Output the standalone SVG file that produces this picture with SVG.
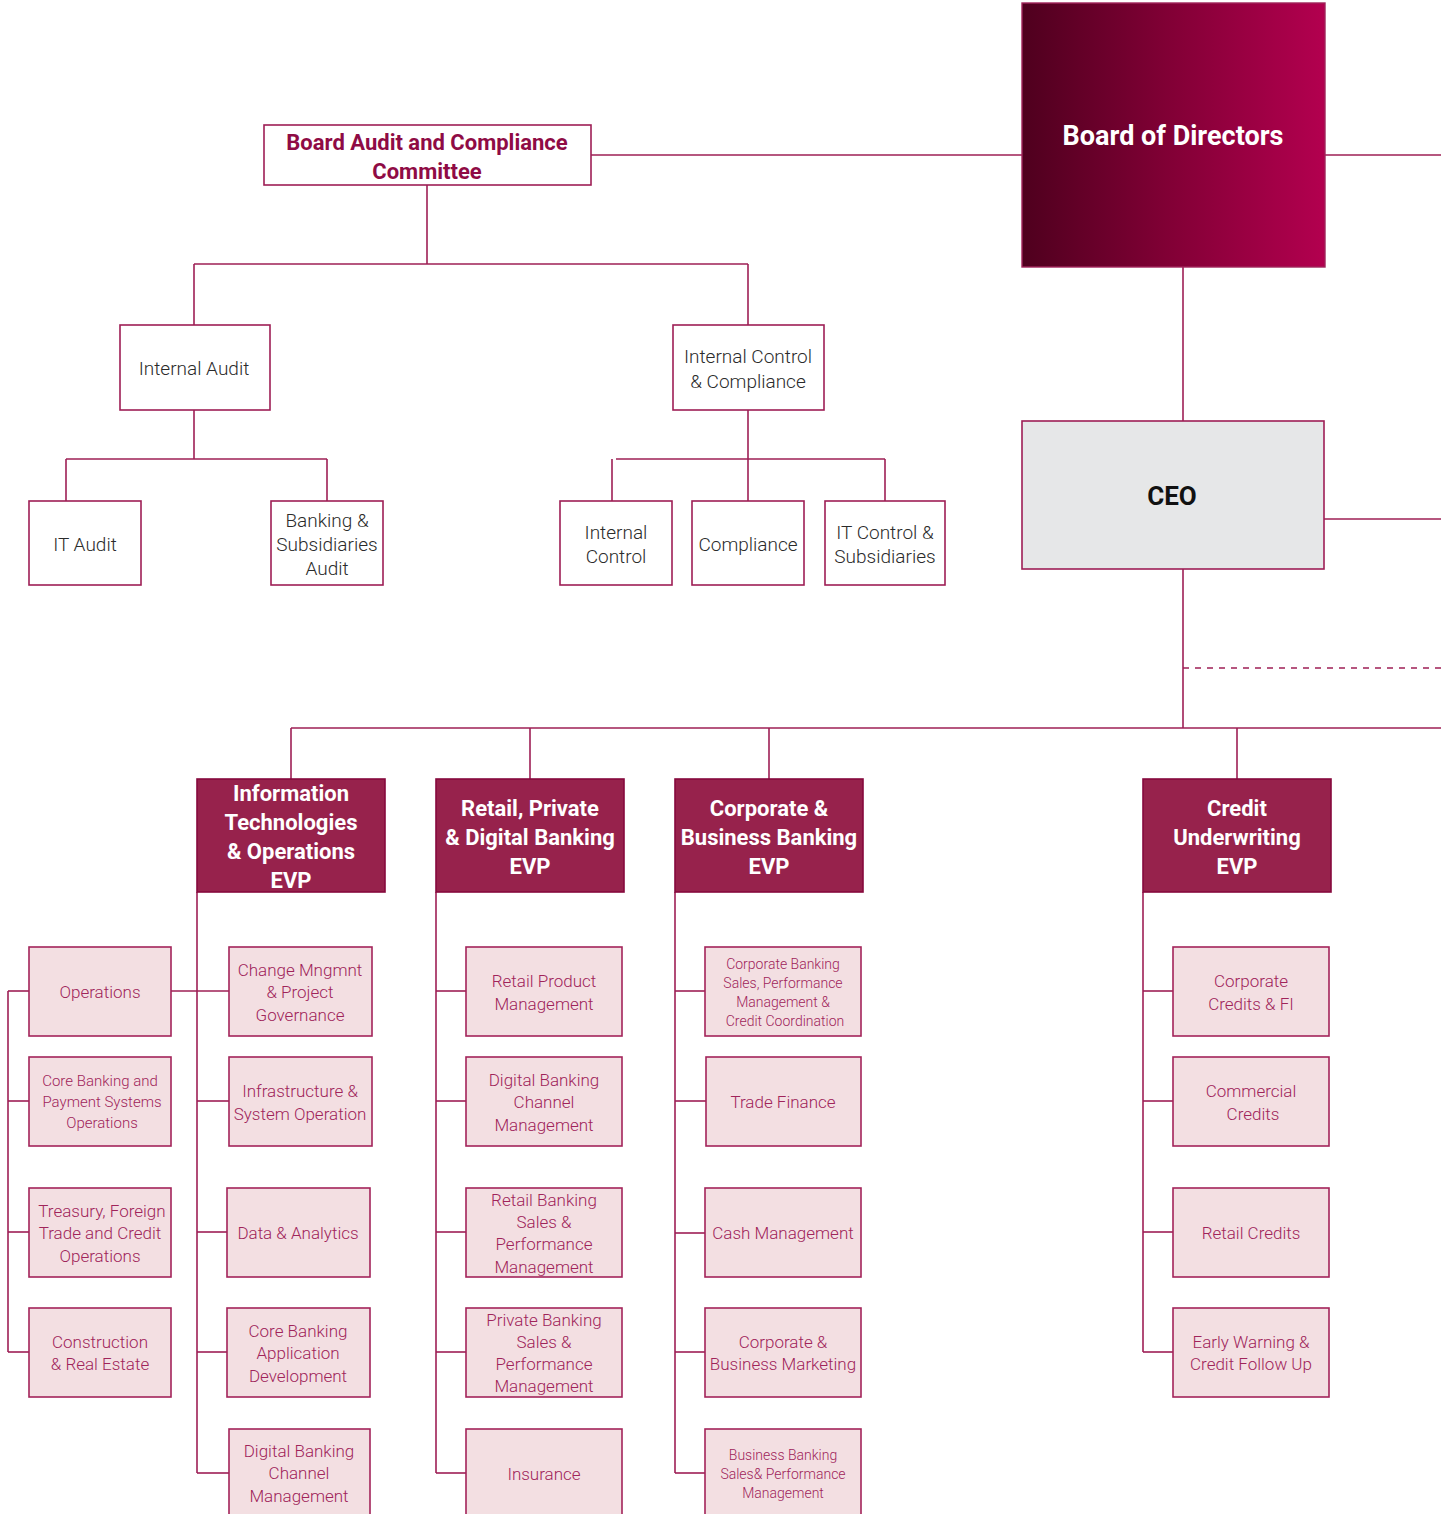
<svg xmlns="http://www.w3.org/2000/svg" width="1441" height="1514" viewBox="0 0 1441 1514">
  <defs>
    <linearGradient id="boardGrad" x1="0" y1="0" x2="1" y2="0">
      <stop offset="0" stop-color="#4f001e"/>
      <stop offset="0.5" stop-color="#830036"/>
      <stop offset="1" stop-color="#b3004f"/>
    </linearGradient>
    <style>
      text { font-family: Roboto, "Liberation Sans", sans-serif; text-anchor: middle; dominant-baseline: central; }
      .conn line, .conn path { stroke: #9e1f55; stroke-width: 1.6; fill: none; }
      .dash { stroke-dasharray: 6 6; }
      .top rect { fill: #ffffff; stroke: #9e1f55; stroke-width: 1.6; }
      .top text { fill: #2b2b2b; font-size: 19px; font-weight: 300; }
      .title text { fill: #8f0b45; font-size: 22px; font-weight: bold; }
      .evp rect { fill: #97224c; stroke: #86093d; stroke-width: 1.6; }
      .evp text { fill: #ffffff; font-size: 22px; font-weight: bold; }
      .sub rect { fill: #f3dfe2; stroke: #a3245a; stroke-width: 1.6; }
      .sub text { fill: #a0245a; font-size: 17px; font-weight: 300; }
      .sub text.sm { font-size: 14px; }
      .sub text.md { font-size: 15px; }
    </style>
  </defs>
  <rect width="1441" height="1514" fill="#ffffff"/>

  <!-- connectors -->
  <g class="conn">
    <line x1="591" y1="155" x2="1022" y2="155"/>
    <line x1="1325" y1="155" x2="1441" y2="155"/>
    <line x1="1183" y1="267" x2="1183" y2="421"/>
    <line x1="1324" y1="519" x2="1441" y2="519"/>
    <line x1="1183" y1="569" x2="1183" y2="728"/>
    <line class="dash" x1="1183" y1="668" x2="1441" y2="668"/>
    <line x1="291" y1="728" x2="1441" y2="728"/>
    <line x1="291" y1="728" x2="291" y2="779"/>
    <line x1="530" y1="728" x2="530" y2="779"/>
    <line x1="769" y1="728" x2="769" y2="779"/>
    <line x1="1237" y1="728" x2="1237" y2="779"/>

    <!-- audit committee branch -->
    <line x1="427" y1="185" x2="427" y2="264"/>
    <line x1="194" y1="264" x2="748" y2="264"/>
    <line x1="194" y1="264" x2="194" y2="325"/>
    <line x1="748" y1="264" x2="748" y2="325"/>
    <line x1="194" y1="410" x2="194" y2="459"/>
    <line x1="66" y1="459" x2="327" y2="459"/>
    <line x1="66" y1="459" x2="66" y2="501"/>
    <line x1="327" y1="459" x2="327" y2="501"/>
    <line x1="748" y1="410" x2="748" y2="501"/>
    <line x1="616" y1="459" x2="885" y2="459"/>
    <line x1="612" y1="459" x2="612" y2="501"/>
    <line x1="885" y1="459" x2="885" y2="501"/>

    <!-- IT & Operations spine -->
    <line x1="197" y1="892" x2="197" y2="1473"/>
    <line x1="171" y1="991" x2="229" y2="991"/>
    <line x1="197" y1="1101" x2="229" y2="1101"/>
    <line x1="197" y1="1232" x2="227" y2="1232"/>
    <line x1="197" y1="1352" x2="227" y2="1352"/>
    <line x1="197" y1="1473" x2="229" y2="1473"/>
    <line x1="8" y1="991" x2="8" y2="1352"/>
    <line x1="8" y1="991" x2="29" y2="991"/>
    <line x1="8" y1="1101" x2="29" y2="1101"/>
    <line x1="8" y1="1232" x2="29" y2="1232"/>
    <line x1="8" y1="1352" x2="29" y2="1352"/>

    <!-- Retail spine -->
    <line x1="436" y1="892" x2="436" y2="1473"/>
    <line x1="436" y1="991" x2="466" y2="991"/>
    <line x1="436" y1="1101" x2="466" y2="1101"/>
    <line x1="436" y1="1232" x2="466" y2="1232"/>
    <line x1="436" y1="1352" x2="466" y2="1352"/>
    <line x1="436" y1="1473" x2="466" y2="1473"/>

    <!-- Corporate spine -->
    <line x1="675" y1="892" x2="675" y2="1473"/>
    <line x1="675" y1="991" x2="705" y2="991"/>
    <line x1="675" y1="1101" x2="706" y2="1101"/>
    <line x1="675" y1="1233" x2="705" y2="1233"/>
    <line x1="675" y1="1352" x2="705" y2="1352"/>
    <line x1="675" y1="1473" x2="705" y2="1473"/>

    <!-- Credit spine -->
    <line x1="1143" y1="892" x2="1143" y2="1352"/>
    <line x1="1143" y1="991" x2="1173" y2="991"/>
    <line x1="1143" y1="1101" x2="1173" y2="1101"/>
    <line x1="1143" y1="1232" x2="1173" y2="1232"/>
    <line x1="1143" y1="1352" x2="1173" y2="1352"/>
  </g>

  <!-- governance -->
  <g id="board">
    <rect x="1022" y="3" width="303" height="264" fill="url(#boardGrad)" stroke="#a0245a" stroke-width="1.4"/>
    <text x="1173" y="136" fill="#ffffff" font-size="27" font-weight="bold">Board of Directors</text>
  </g>
  <g id="audit-committee" class="top title">
    <rect x="264" y="125" width="327" height="60"/>
    <text x="427" y="142">Board Audit and Compliance</text>
    <text x="427" y="171">Committee</text>
  </g>
  <g id="ceo">
    <rect x="1022" y="421" width="302" height="148" fill="#e6e7e8" stroke="#9e1f55" stroke-width="1.6"/>
    <text x="1172" y="496" fill="#111111" font-size="26" font-weight="bold">CEO</text>
  </g>

  <g id="internal-audit" class="top">
    <rect x="120" y="325" width="150" height="85"/>
    <text x="194" y="368">Internal Audit</text>
  </g>
  <g id="internal-control-compliance" class="top">
    <rect x="673" y="325" width="151" height="85"/>
    <text x="748" y="356">Internal Control</text>
    <text x="748" y="381">&amp; Compliance</text>
  </g>
  <g id="it-audit" class="top">
    <rect x="29" y="501" width="112" height="84"/>
    <text x="85" y="544">IT Audit</text>
  </g>
  <g id="banking-subsidiaries-audit" class="top">
    <rect x="271" y="501" width="112" height="84"/>
    <text x="327" y="520">Banking &amp;</text>
    <text x="327" y="544">Subsidiaries</text>
    <text x="327" y="568">Audit</text>
  </g>
  <g id="internal-control" class="top">
    <rect x="560" y="501" width="112" height="84"/>
    <text x="616" y="532">Internal</text>
    <text x="616" y="556">Control</text>
  </g>
  <g id="compliance" class="top">
    <rect x="692" y="501" width="112" height="84"/>
    <text x="748" y="544">Compliance</text>
  </g>
  <g id="it-control-subsidiaries" class="top">
    <rect x="825" y="501" width="120" height="84"/>
    <text x="885" y="532">IT Control &amp;</text>
    <text x="885" y="556">Subsidiaries</text>
  </g>

  <!-- EVPs -->
  <g id="evp-it" class="evp">
    <rect x="197" y="779" width="188" height="113"/>
    <text x="291" y="793">Information</text>
    <text x="291" y="822">Technologies</text>
    <text x="291" y="851">&amp; Operations</text>
    <text x="291" y="880">EVP</text>
  </g>
  <g id="evp-retail" class="evp">
    <rect x="436" y="779" width="188" height="113"/>
    <text x="530" y="808">Retail, Private</text>
    <text x="530" y="837">&amp; Digital Banking</text>
    <text x="530" y="866">EVP</text>
  </g>
  <g id="evp-corporate" class="evp">
    <rect x="675" y="779" width="188" height="113"/>
    <text x="769" y="808">Corporate &amp;</text>
    <text x="769" y="837">Business Banking</text>
    <text x="769" y="866">EVP</text>
  </g>
  <g id="evp-credit" class="evp">
    <rect x="1143" y="779" width="188" height="113"/>
    <text x="1237" y="808">Credit</text>
    <text x="1237" y="837">Underwriting</text>
    <text x="1237" y="866">EVP</text>
  </g>

  <!-- IT & Operations units -->
  <g id="operations" class="sub">
    <rect x="29" y="947" width="142" height="89"/>
    <text x="100" y="992">Operations</text>
  </g>
  <g id="core-banking-payment-ops" class="sub">
    <rect x="29" y="1057" width="142" height="89"/>
    <text class="md" x="100" y="1081">Core Banking and</text>
    <text class="md" x="102" y="1102">Payment Systems</text>
    <text class="md" x="102" y="1123">Operations</text>
  </g>
  <g id="treasury-ops" class="sub">
    <rect x="29" y="1188" width="142" height="89"/>
    <text x="102" y="1211">Treasury, Foreign</text>
    <text x="100" y="1233">Trade and Credit</text>
    <text x="100" y="1256">Operations</text>
  </g>
  <g id="construction-real-estate" class="sub">
    <rect x="29" y="1308" width="142" height="89"/>
    <text x="100" y="1342">Construction</text>
    <text x="100" y="1364">&amp; Real Estate</text>
  </g>
  <g id="change-management" class="sub">
    <rect x="229" y="947" width="143" height="89"/>
    <text x="300" y="970">Change Mngmnt</text>
    <text x="300" y="992">&amp; Project</text>
    <text x="300" y="1015">Governance</text>
  </g>
  <g id="infrastructure" class="sub">
    <rect x="229" y="1057" width="143" height="89"/>
    <text x="300" y="1091">Infrastructure &amp;</text>
    <text x="300" y="1114">System Operation</text>
  </g>
  <g id="data-analytics" class="sub">
    <rect x="227" y="1188" width="143" height="89"/>
    <text x="298" y="1233">Data &amp; Analytics</text>
  </g>
  <g id="core-banking-app-dev" class="sub">
    <rect x="227" y="1308" width="143" height="89"/>
    <text x="298" y="1331">Core Banking</text>
    <text x="298" y="1353">Application</text>
    <text x="298" y="1376">Development</text>
  </g>
  <g id="it-digital-channel" class="sub">
    <rect x="229" y="1429" width="141" height="95"/>
    <text x="299" y="1451">Digital Banking</text>
    <text x="299" y="1473">Channel</text>
    <text x="299" y="1496">Management</text>
  </g>

  <!-- Retail, Private & Digital Banking units -->
  <g id="retail-product" class="sub">
    <rect x="466" y="947" width="156" height="89"/>
    <text x="544" y="981">Retail Product</text>
    <text x="544" y="1004">Management</text>
  </g>
  <g id="digital-channel" class="sub">
    <rect x="466" y="1057" width="156" height="89"/>
    <text x="544" y="1080">Digital Banking</text>
    <text x="544" y="1102">Channel</text>
    <text x="544" y="1125">Management</text>
  </g>
  <g id="retail-sales" class="sub">
    <rect x="466" y="1188" width="156" height="89"/>
    <text x="544" y="1200">Retail Banking</text>
    <text x="544" y="1222">Sales &amp;</text>
    <text x="544" y="1244">Performance</text>
    <text x="544" y="1267">Management</text>
  </g>
  <g id="private-sales" class="sub">
    <rect x="466" y="1308" width="156" height="89"/>
    <text x="544" y="1320">Private Banking</text>
    <text x="544" y="1342">Sales &amp;</text>
    <text x="544" y="1364">Performance</text>
    <text x="544" y="1386">Management</text>
  </g>
  <g id="insurance" class="sub">
    <rect x="466" y="1429" width="156" height="95"/>
    <text x="544" y="1474">Insurance</text>
  </g>

  <!-- Corporate & Business Banking units -->
  <g id="corporate-sales" class="sub">
    <rect x="705" y="947" width="156" height="89"/>
    <text class="sm" x="783" y="964">Corporate Banking</text>
    <text class="sm" x="783" y="983">Sales, Performance</text>
    <text class="sm" x="783" y="1002">Management &amp;</text>
    <text class="sm" x="785" y="1021">Credit Coordination</text>
  </g>
  <g id="trade-finance" class="sub">
    <rect x="706" y="1057" width="155" height="89"/>
    <text x="783" y="1102">Trade Finance</text>
  </g>
  <g id="cash-management" class="sub">
    <rect x="705" y="1188" width="156" height="89"/>
    <text x="783" y="1233">Cash Management</text>
  </g>
  <g id="corporate-marketing" class="sub">
    <rect x="705" y="1308" width="156" height="89"/>
    <text x="783" y="1342">Corporate &amp;</text>
    <text x="783" y="1364">Business Marketing</text>
  </g>
  <g id="business-sales" class="sub">
    <rect x="705" y="1429" width="156" height="95"/>
    <text class="sm" x="783" y="1455">Business Banking</text>
    <text class="sm" x="783" y="1474">Sales&amp; Performance</text>
    <text class="sm" x="783" y="1493">Management</text>
  </g>

  <!-- Credit Underwriting units -->
  <g id="corporate-credits" class="sub">
    <rect x="1173" y="947" width="156" height="89"/>
    <text x="1251" y="981">Corporate</text>
    <text x="1251" y="1004">Credits &amp; FI</text>
  </g>
  <g id="commercial-credits" class="sub">
    <rect x="1173" y="1057" width="156" height="89"/>
    <text x="1251" y="1091">Commercial</text>
    <text x="1253" y="1114">Credits</text>
  </g>
  <g id="retail-credits" class="sub">
    <rect x="1173" y="1188" width="156" height="89"/>
    <text x="1251" y="1233">Retail Credits</text>
  </g>
  <g id="early-warning" class="sub">
    <rect x="1173" y="1308" width="156" height="89"/>
    <text x="1251" y="1342">Early Warning &amp;</text>
    <text x="1251" y="1364">Credit Follow Up</text>
  </g>
</svg>
